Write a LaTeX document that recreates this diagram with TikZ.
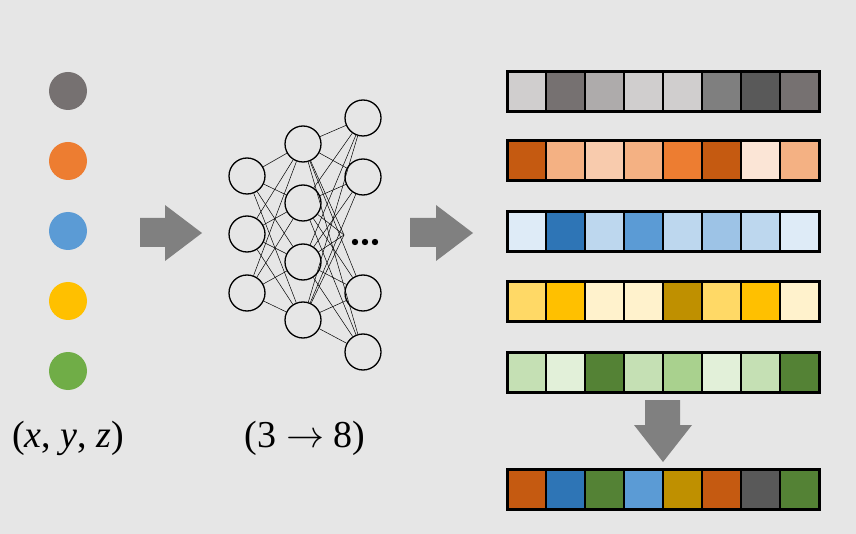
\RequirePackage{fix-cm}
\documentclass[tikz,border=0pt]{standalone}
\usepackage{fontspec}
\setmainfont{Liberation Serif}
\definecolor{bgc}{HTML}{E6E6E6}
\definecolor{arr}{HTML}{808080}
\definecolor{cgray}{HTML}{767171}
\definecolor{corange}{HTML}{ED7D31}
\definecolor{cblue}{HTML}{5B9BD5}
\definecolor{cyellow}{HTML}{FFC000}
\definecolor{cgreen}{HTML}{70AD47}
\begin{document}
\begin{tikzpicture}[x=1pt,y=-1pt,
  dotc/.style={circle,minimum size=38pt,inner sep=0pt},
  neuron/.style={circle,draw=black,line width=1.3pt,minimum size=36pt,inner sep=0pt},
  link/.style={line width=0.5pt,draw=black},
  cell/.style={rectangle,draw=black,line width=2pt,minimum width=39pt,minimum height=40pt,inner sep=0pt,outer sep=0pt},
  bigarrow/.style={fill=arr,draw=none},
  lbl/.style={font=\fontsize{38}{44}\selectfont,inner sep=0pt}]
\fill[bgc] (0,0) rectangle (856,534);
\useasboundingbox (0,0) rectangle (856,534);
% input points
\foreach \c [count=\i] in {cgray,corange,cblue,cyellow,cgreen}
  \node[dotc,fill=\c] (p\i) at (68,{21+70*\i}) {};
% arrows
\fill[bigarrow] (140,218) -- (165,218) -- (165,205) -- (202,233) -- (165,261) -- (165,247) -- (140,247) -- cycle;
\fill[bigarrow] (410,218) -- (436,218) -- (436,205) -- (473,233) -- (436,261) -- (436,247) -- (410,247) -- cycle;
\fill[bigarrow] (645,400) -- (680,400) -- (680,425) -- (692,425) -- (663,462) -- (634,425) -- (645,425) -- cycle;
% network
\foreach \y [count=\i] in {176,234,293}
  \node[neuron] (a\i) at (247,\y) {};
\foreach \y [count=\i] in {144,203,262,320}
  \node[neuron] (m\i) at (303,\y) {};
\node[neuron] (o1) at (363,118) {};
\node[neuron] (o2) at (363,177) {};
\node[neuron] (o4) at (363,293) {};
\node[neuron] (o5) at (363,352) {};
\coordinate (h) at (344,235);
\foreach \i in {1,2,3}
  \foreach \j in {1,2,3,4}
    \draw[link] (a\i) -- (m\j);
\foreach \j in {1,2,3,4}{
  \foreach \k in {1,2,4,5}
    \draw[link] (m\j) -- (o\k);
  \draw[link] (m\j) -- (h);
}
\foreach \x in {355,365,375}
  \fill[black] (\x,242) circle (3.2pt);
% bars
\foreach \r/\yy/\cols in {
  1/72/{D0CECE,767171,AEABAB,D0CECE,D0CECE,7F7F7F,595959,767171},
  2/141/{C55A11,F4B183,F8CBAD,F4B183,ED7D31,C55A11,FBE5D6,F4B183},
  3/212/{DEEBF7,2E75B6,BDD7EE,5B9BD5,BDD7EE,9DC3E6,BDD7EE,DEEBF7},
  4/282/{FFD966,FFC000,FFF2CC,FFF2CC,BF9000,FFD966,FFC000,FFF2CC},
  5/352/{C5E0B4,E2F0D9,548235,C5E0B4,A9D18E,E2F0D9,C5E0B4,548235},
  6/469/{C55A11,2E75B6,548235,5B9BD5,BF9000,C55A11,595959,548235}}{
  \foreach \c [count=\j from 0] in \cols {
    \definecolor{cc}{HTML}{\c}
    \node[cell,fill=cc] (b\r-\j) at ({507+19.5+39*\j},{\yy+20}) {};
  }
  \draw[line width=3pt] (b\r-0.north west) rectangle (b\r-7.south east);
}
% labels
\node[lbl] (t1) at (68,438) {(\textit{x}, \textit{y}, \textit{z})};
\node[lbl] (t2) at (305,438) {(3 $\rightarrow$ 8)};
\end{tikzpicture}
\end{document}
